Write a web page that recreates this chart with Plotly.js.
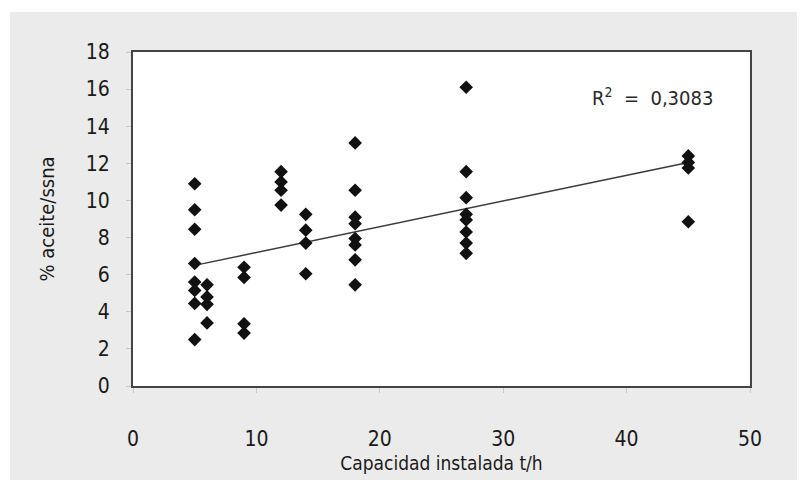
<!DOCTYPE html>
<html>
<head>
<meta charset="utf-8">
<script src="https://cdn.plot.ly/plotly-3.0.1.min.js"></script>
<style>html,body{margin:0;padding:0;background:#fff;}#chart{width:800px;height:485px;}</style>
</head>
<body>
<div id="chart"></div>
<script>
// Capacidad instalada (t/h)
const capacidad = [
  5, 5, 5, 5, 5, 5, 5, 5,
  6, 6, 6, 6,
  9, 9, 9, 9,
  12, 12, 12, 12,
  14, 14, 14, 14,
  18, 18, 18, 18, 18, 18, 18, 18,
  27, 27, 27, 27, 27, 27, 27, 27,
  45, 45, 45, 45
];
// % aceite/ssna
const aceite = [
  10.9, 9.5, 8.45, 6.6, 5.6, 5.15, 4.45, 2.5,
  5.45, 4.8, 4.4, 3.4,
  6.4, 5.85, 3.35, 2.85,
  11.55, 11.0, 10.55, 9.75,
  9.25, 8.4, 7.7, 6.05,
  13.1, 10.55, 9.1, 8.75, 7.95, 7.6, 6.8, 5.45,
  16.1, 11.55, 10.15, 9.25, 8.95, 8.3, 7.7, 7.15,
  12.4, 12.05, 11.75, 8.85
];
// Linear trend line endpoints
const trendX = [5, 45];
const trendY = [6.5, 12.05];
const xTicks = [0, 10, 20, 30, 40, 50];
const yTicks = [0, 2, 4, 6, 8, 10, 12, 14, 16, 18];
const r2Label = "R<sup>2</sup>  =  0,3083";

const FONT = "DejaVu Sans Condensed, Liberation Sans Narrow, Arial Narrow, sans-serif";

const traces = [
  {
    x: trendX, y: trendY, type: "scatter", mode: "lines",
    line: {color: "#3a3a3a", width: 1.5},
    hoverinfo: "skip", showlegend: false
  },
  {
    x: capacidad, y: aceite, type: "scatter", mode: "markers",
    marker: {symbol: "diamond", size: 10.5, color: "#111"},
    showlegend: false
  }
];

const W = 617, H = 334; // plot area size in px
const layout = {
  width: 800, height: 485,
  margin: {l: 133, r: 50, t: 52, b: 99, pad: 0},
  paper_bgcolor: "#ffffff",
  plot_bgcolor: "#ffffff",
  font: {family: FONT, color: "#1a1a1a", size: 20},
  showlegend: false,
  xaxis: {
    range: [0, 50], tickvals: xTicks, ticktext: xTicks.map(String),
    showgrid: false, zeroline: false,
    showline: true, linecolor: "#444", linewidth: 2, mirror: true,
    ticks: "outside", ticklen: 5, tickcolor: "#c8c8c8", tickwidth: 1,
    ticklabelstandoff: 28,
    tickfont: {family: FONT, size: 21, color: "#1a1a1a"},
    title: {text: "Capacidad instalada t/h", font: {family: FONT, size: 19, color: "#1a1a1a"}, standoff: 6}
  },
  yaxis: {
    range: [0, 18], tickvals: yTicks, ticktext: yTicks.map(String),
    showgrid: false, zeroline: false,
    showline: true, linecolor: "#444", linewidth: 2, mirror: true,
    ticks: "outside", ticklen: 5, tickcolor: "#c8c8c8", tickwidth: 1,
    ticklabelstandoff: 12,
    tickfont: {family: FONT, size: 21, color: "#1a1a1a"},
    title: {text: "% aceite/ssna", font: {family: FONT, size: 20, color: "#1a1a1a"}, standoff: 26}
  },
  shapes: [
    {
      type: "rect", xref: "paper", yref: "paper", layer: "below",
      x0: (10 - 133) / W, x1: (797 - 133) / W,
      y0: (386 - 480) / H, y1: (386 - 12) / H,
      fillcolor: "#ebebeb", line: {width: 0}
    },
    {
      type: "rect", xref: "paper", yref: "paper", layer: "below",
      x0: 0, x1: 1, y0: 0, y1: 1,
      fillcolor: "#ffffff", line: {width: 0}
    }
  ],
  annotations: [
    {
      xref: "x", yref: "y", x: 47.2, y: 15.6, text: r2Label, showarrow: false,
      xanchor: "right", yanchor: "middle",
      font: {family: FONT, size: 20, color: "#2a2a2a"}
    }
  ]
};

Plotly.newPlot("chart", traces, layout, {staticPlot: true, displayModeBar: false});
</script>
</body>
</html>
